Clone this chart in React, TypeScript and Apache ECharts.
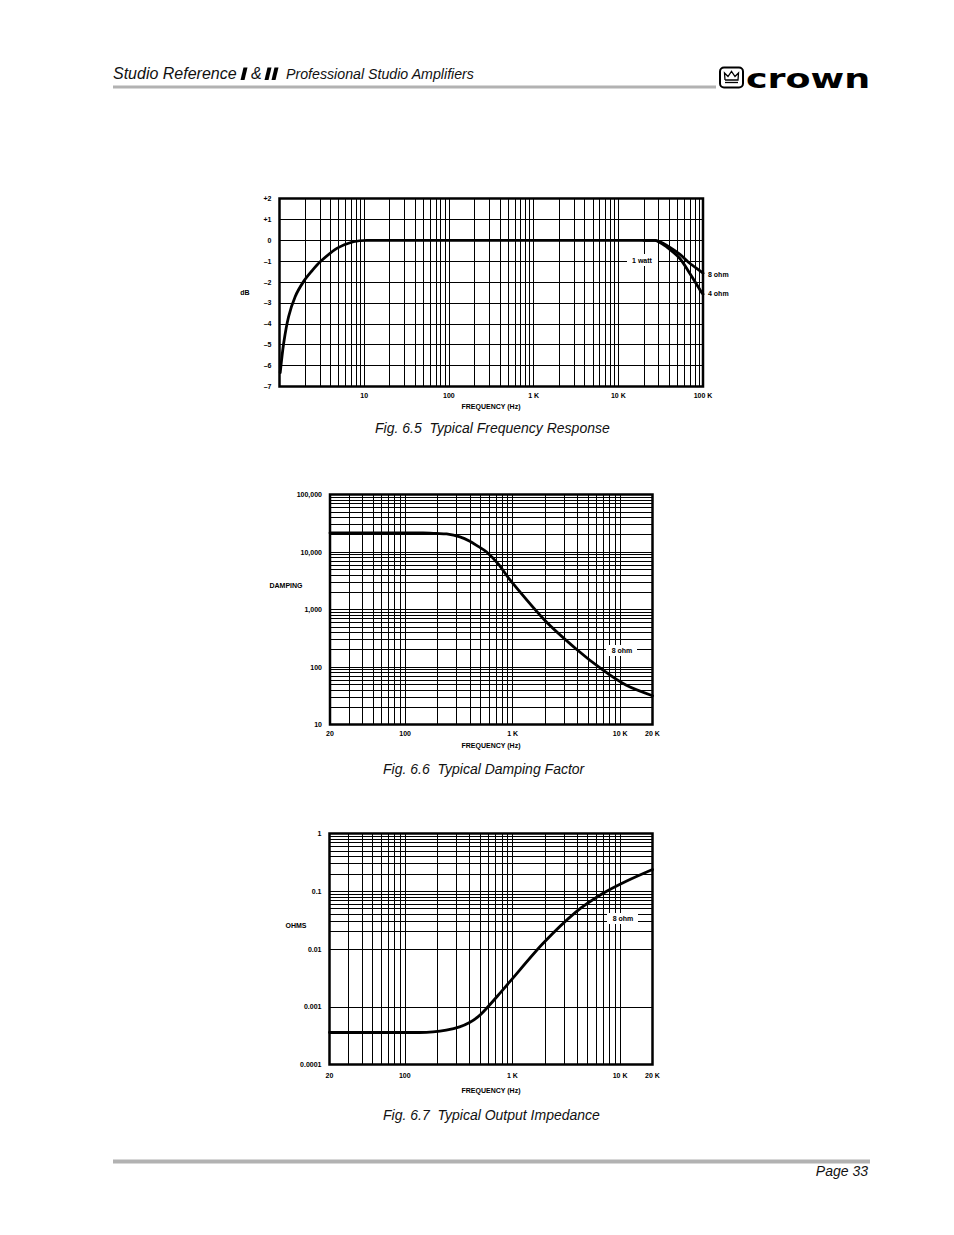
import React, { useEffect, useRef } from "react";
import * as echarts from "echarts";

const PAGE_W = 954;
const PAGE_H = 1235;

// ---------- Fig. 6.5 Typical Frequency Response ----------
const fr8ohmFreq = [1.02, 1.12, 1.28, 1.53, 1.92, 2.41, 3.02, 4.75, 7.46, 10.7, 20000, 27000, 30000, 37000, 53000, 69700, 95000, 100000];
const fr8ohmDb = [-6.33, -4.93, -3.66, -2.7, -1.98, -1.47, -1.03, -0.39, -0.07, 0, 0, 0, -0.05, -0.23, -0.66, -1.1, -1.5, -1.58];
const fr4ohmFreq = [20000, 27000, 30000, 37000, 53000, 69700, 95000, 100000];
const fr4ohmDb = [0, 0, -0.07, -0.31, -0.86, -1.58, -2.46, -2.58];
const frXTickLabels = ["", "10", "100", "1 K", "10 K", "100 K"]; // 1 .. 100K
const frYTickLabels: Record<string, string> = { "2": "+2", "1": "+1", "0": "0", "-1": "–1", "-2": "–2", "-3": "–3", "-4": "–4", "-5": "–5", "-6": "–6", "-7": "–7" };

// ---------- Fig. 6.6 Typical Damping Factor ----------
const dampFreq = [20, 147, 196, 243, 323, 400, 478, 573, 737, 942, 1990, 3925, 6940, 11430, 20000];
const dampValue = [21500, 21400, 21000, 20600, 18300, 15400, 12500, 10000, 6140, 3300, 652, 204, 88, 48, 31.6];
const dampYTickValues = [10, 100, 1000, 10000, 100000];
const dampYTickLabels = ["10", "100", "1,000", "10,000", "100,000"];

// ---------- Fig. 6.7 Typical Output Impedance ----------
const impFreq = [20, 137, 183, 243, 323, 400, 478, 573, 737, 942, 1920, 3900, 6900, 11400, 20000];
const impValue = [0.000358, 0.000358, 0.000366, 0.000393, 0.000448, 0.000535, 0.000667, 0.000933, 0.00158, 0.00269, 0.01245, 0.044, 0.0913, 0.149, 0.238];
const impYTickValues = [0.0001, 0.001, 0.01, 0.1, 1];
const impYTickLabels = ["0.0001", "0.001", "0.01", "0.1", "1"];

const audioXTickValues = [20, 100, 1000, 10000, 20000];
const audioXTickLabels = ["20", "100", "1 K", "10 K", "20 K"];

const gridMultipliers = [2, 3, 4, 5, 6, 7, 8, 9];

function minorLogLines(minExp: number, maxExp: number, lo: number, hi: number) {
  const out: number[] = [];
  for (let e = minExp; e < maxExp; e++) {
    const d = Math.pow(10, e);
    for (const m of gridMultipliers) {
      const v = parseFloat((m * d).toPrecision(6));
      if (v > lo * 1.0001 && v < hi * 0.9999) out.push(v);
    }
  }
  return out;
}

function nearestLabel(v: number, vals: number[], labels: string[]) {
  let best = 0;
  let bd = Infinity;
  vals.forEach((t, i) => {
    const d = Math.abs(Math.log10(v) - Math.log10(t));
    if (d < bd) { bd = d; best = i; }
  });
  return bd < 0.05 ? labels[best] : "";
}

const FONT = "Liberation Sans";
const tickLabel = { fontSize: 7, fontWeight: "bold" as const, color: "#000", fontFamily: FONT };
const splitBlack = { show: true, lineStyle: { color: "#000", width: 1, type: "solid" as const } };

function gridLineSeries(xi: number, xs: number[], ys: number[]) {
  return {
    type: "line",
    xAxisIndex: xi,
    yAxisIndex: xi,
    data: [],
    silent: true,
    z: 1,
    markLine: {
      silent: true,
      symbol: ["none", "none"],
      label: { show: false },
      emphasis: { disabled: true },
      lineStyle: { color: "#000", width: 1, type: "solid", opacity: 1 },
      data: [...xs.map((v) => ({ xAxis: v })), ...ys.map((v) => ({ yAxis: v }))],
    },
  };
}

function curve(xi: number, xs: number[], ys: number[]) {
  return {
    type: "line",
    xAxisIndex: xi,
    yAxisIndex: xi,
    data: xs.map((x, i) => [x, ys[i]]),
    symbol: "none",
    showSymbol: false,
    smooth: 0.3,
    silent: true,
    z: 5,
    lineStyle: { color: "#000", width: 2.8, cap: "round", join: "round" },
  };
}

function txt(x: number, y: number, text: string, opts: any = {}) {
  return {
    type: "text",
    x,
    y,
    z: 100,
    silent: true,
    style: {
      text,
      fill: "#000",
      fontFamily: FONT,
      fontSize: 7,
      fontWeight: "bold",
      textAlign: "center",
      textVerticalAlign: "middle",
      ...opts,
    },
  };
}

function whiteBox(x: number, y: number, w: number, h: number) {
  return { type: "rect", z: 99, silent: true, shape: { x, y, width: w, height: h }, style: { fill: "#fff" } };
}

function buildOption() {
  const italic = { fontStyle: "italic", fontWeight: "normal", textAlign: "left", fill: "#111" };
  return {
    animation: false,
    backgroundColor: "#fff",
    grid: [
      { left: 279.5, top: 198.5, width: 423.5, height: 188, show: true, borderColor: "#000", borderWidth: 2.5, containLabel: false },
      { left: 330, top: 494.5, width: 322.5, height: 230, show: true, borderColor: "#000", borderWidth: 2.5, containLabel: false },
      { left: 329.5, top: 833.5, width: 323, height: 231, show: true, borderColor: "#000", borderWidth: 2.5, containLabel: false },
    ],
    xAxis: [
      {
        gridIndex: 0, type: "log", logBase: 10, min: 1, max: 100000,
        axisLine: { show: false }, axisTick: { show: false }, splitLine: splitBlack,
        axisLabel: { ...tickLabel, margin: 5, formatter: (v: number) => frXTickLabels[Math.round(Math.log10(v))] ?? "" },
      },
      {
        gridIndex: 1, type: "log", logBase: 10, min: 20, max: 20000,
        axisLine: { show: false }, axisTick: { show: false }, splitLine: splitBlack,
        axisLabel: { ...tickLabel, margin: 5, showMinLabel: true, showMaxLabel: true, formatter: (v: number) => nearestLabel(v, audioXTickValues, audioXTickLabels) },
      },
      {
        gridIndex: 2, type: "log", logBase: 10, min: 20, max: 20000,
        axisLine: { show: false }, axisTick: { show: false }, splitLine: splitBlack,
        axisLabel: { ...tickLabel, margin: 7, showMinLabel: true, showMaxLabel: true, formatter: (v: number) => nearestLabel(v, audioXTickValues, audioXTickLabels) },
      },
    ],
    yAxis: [
      {
        gridIndex: 0, type: "value", min: -7, max: 2, interval: 1,
        axisLine: { show: false }, axisTick: { show: false }, splitLine: splitBlack,
        axisLabel: { ...tickLabel, margin: 8, formatter: (v: number) => frYTickLabels[String(Math.round(v))] ?? "" },
      },
      {
        gridIndex: 1, type: "log", logBase: 10, min: 10, max: 100000,
        axisLine: { show: false }, axisTick: { show: false }, splitLine: splitBlack,
        axisLabel: { ...tickLabel, margin: 8, showMinLabel: true, showMaxLabel: true, formatter: (v: number) => nearestLabel(v, dampYTickValues, dampYTickLabels) },
      },
      {
        gridIndex: 2, type: "log", logBase: 10, min: 0.0001, max: 1,
        axisLine: { show: false }, axisTick: { show: false }, splitLine: splitBlack,
        axisLabel: { ...tickLabel, margin: 8, showMinLabel: true, showMaxLabel: true, formatter: (v: number) => nearestLabel(v, impYTickValues, impYTickLabels) },
      },
    ],
    series: [
      gridLineSeries(0, minorLogLines(0, 5, 1, 100000), []),
      gridLineSeries(1, minorLogLines(1, 5, 20, 20000), minorLogLines(1, 5, 10, 100000)),
      gridLineSeries(2, minorLogLines(1, 5, 20, 20000), minorLogLines(-4, 0, 0.0001, 1)),
      curve(0, fr8ohmFreq, fr8ohmDb),
      curve(0, fr4ohmFreq, fr4ohmDb),
      curve(1, dampFreq, dampValue),
      curve(2, impFreq, impValue),
    ],
    graphic: [
      // header
      txt(113, 73, "Studio Reference", { ...italic, fontSize: 16 }),
      { type: "polygon", z: 100, silent: true, shape: { points: [[240.5, 80], [244.5, 80], [247.5, 67.5], [243.5, 67.5]] }, style: { fill: "#000" } },
      txt(251, 73, "&", { ...italic, fontSize: 16 }),
      { type: "polygon", z: 100, silent: true, shape: { points: [[264.5, 80], [268.5, 80], [271.5, 67.5], [267.5, 67.5]] }, style: { fill: "#000" } },
      { type: "polygon", z: 100, silent: true, shape: { points: [[271.5, 80], [275.5, 80], [278.5, 67.5], [274.5, 67.5]] }, style: { fill: "#000" } },
      txt(286, 74, "Professional Studio Amplifiers", { ...italic, fontSize: 14.2 }),
      { type: "rect", z: 90, silent: true, shape: { x: 113, y: 85.5, width: 603, height: 3 }, style: { fill: "#b2b2b2" } },
      // crown logo
      { type: "rect", z: 100, silent: true, shape: { x: 720, y: 67.5, width: 23, height: 20, r: 4 }, style: { fill: "#fff", stroke: "#000", lineWidth: 2 } },
      { type: "polyline", z: 101, silent: true, shape: { points: [[725, 80], [724.5, 73], [728, 76.5], [731.5, 71.5], [735, 76.5], [738.5, 73], [738, 80], [725, 80]] }, style: { fill: "none", stroke: "#000", lineWidth: 1.3 } },
      { type: "line", z: 101, silent: true, shape: { x1: 725, y1: 82.5, x2: 738, y2: 82.5 }, style: { stroke: "#000", lineWidth: 1.3 } },
      {
        type: "text", z: 100, silent: true, x: 746, y: 79, scaleX: 1.35,
        style: { text: "crown", fill: "#000", fontFamily: "DejaVu Sans", fontSize: 27, fontWeight: "bold", textAlign: "left", textVerticalAlign: "middle" },
      },
      // chart 1 labels
      txt(245, 292, "dB"),
      txt(491, 406, "FREQUENCY (Hz)"),
      whiteBox(627, 254, 31, 12),
      txt(642, 260, "1 watt"),
      txt(708, 274, "8 ohm", { textAlign: "left" }),
      txt(708, 293, "4 ohm", { textAlign: "left" }),
      txt(375, 428, "Fig. 6.5  Typical Frequency Response", { ...italic, fontSize: 14 }),
      // chart 2 labels
      txt(286, 585, "DAMPING"),
      txt(491, 745, "FREQUENCY (Hz)"),
      whiteBox(606, 645, 31, 11),
      txt(622, 650, "8 ohm"),
      txt(383, 769, "Fig. 6.6  Typical Damping Factor", { ...italic, fontSize: 14 }),
      // chart 3 labels
      txt(296, 925, "OHMS"),
      txt(491, 1090, "FREQUENCY (Hz)"),
      whiteBox(607, 913, 31, 11),
      txt(623, 918, "8 ohm"),
      txt(383, 1115, "Fig. 6.7  Typical Output Impedance", { ...italic, fontSize: 14 }),
      // footer
      { type: "rect", z: 90, silent: true, shape: { x: 113, y: 1159.5, width: 757, height: 4 }, style: { fill: "#b2b2b2" } },
      txt(868, 1171, "Page 33", { ...italic, fontSize: 14, textAlign: "right" }),
    ],
  };
}

export default function App() {
  const ref = useRef<HTMLDivElement>(null);
  useEffect(() => {
    document.body.style.margin = "0";
    if (!ref.current) return;
    const chart = echarts.init(ref.current, undefined, { renderer: "svg", width: PAGE_W, height: PAGE_H });
    chart.setOption(buildOption() as any);
    return () => chart.dispose();
  }, []);
  return <div ref={ref} style={{ position: "absolute", left: 0, top: 0, width: PAGE_W, height: PAGE_H, background: "#fff" }} />;
}
